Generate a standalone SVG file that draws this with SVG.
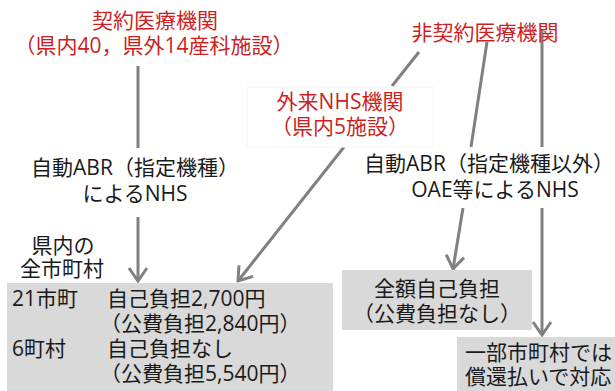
<svg xmlns="http://www.w3.org/2000/svg" width="615" height="391" viewBox="0 0 615 391">
<style>
  text { font-family: "Open Sans", "Noto Sans CJK JP", sans-serif; font-size: 21px; }
  .red { fill: #cc1f1f; }
  .blk { fill: #1a1a1a; }
  .mid { text-anchor: middle; }
  .conn { stroke: #808080; stroke-width: 3; fill: none; }
  .lbl { fill: #ffffff; stroke: #f4f4f4; stroke-width: 1; }
  .gbox { fill: #d9d9d9; }
</style>
<defs>
  <marker id="arr" markerUnits="userSpaceOnUse" viewBox="-16 -12 18 24" refX="0" refY="0" markerWidth="18" markerHeight="24" orient="auto">
    <path d="M-13,-9 L0,0 L-13,9" fill="none" stroke="#808080" stroke-width="3"/>
  </marker>
</defs>
<rect width="615" height="391" fill="#ffffff"/>

<g id="connectors">
  <line class="conn" x1="138" y1="66" x2="138" y2="148"/>
  <line class="conn" x1="138" y1="217" x2="138" y2="281" marker-end="url(#arr)"/>
  <line class="conn" x1="419" y1="52" x2="392" y2="86"/>
  <line class="conn" x1="344" y1="147" x2="238" y2="281" marker-end="url(#arr)"/>
  <line class="conn" x1="487" y1="42" x2="471" y2="147"/>
  <line class="conn" x1="463" y1="208" x2="453" y2="269" marker-end="url(#arr)"/>
  <line class="conn" x1="542" y1="30" x2="542" y2="147"/>
  <line class="conn" x1="542" y1="208" x2="542" y2="335" marker-end="url(#arr)"/>
</g>

<g id="contract">
  <text class="red mid" x="155" y="28">契約医療機関</text>
  <text class="red mid" x="154" y="53">（県内40，県外14産科施設）</text>
</g>

<g id="noncontract">
  <text class="red mid" x="485" y="40">非契約医療機関</text>
</g>

<g id="outpatient">
  <rect class="lbl" x="247" y="87" width="186" height="60"/>
  <text class="red mid" x="340" y="109">外来NHS機関</text>
  <text class="red mid" x="340" y="134">（県内5施設）</text>
</g>

<g id="abr-designated">
  <text class="blk mid" x="135" y="175">自動ABR（指定機種）</text>
  <text class="blk mid" x="135" y="201">によるNHS</text>
</g>

<g id="abr-other">
  <text class="blk mid" x="489" y="171">自動ABR（指定機種以外）</text>
  <text class="blk mid" x="495" y="197">OAE等によるNHS</text>
</g>

<g id="all-municipalities">
  <text class="blk mid" x="63" y="253">県内の</text>
  <text class="blk mid" x="62" y="276">全市町村</text>
</g>

<g id="public-support">
  <rect class="gbox" x="7" y="283" width="326" height="108"/>
  <text class="blk" x="12" y="306">21市町</text>
  <text class="blk" x="107" y="306">自己負担2,700円</text>
  <text class="blk" x="100" y="331">（公費負担2,840円）</text>
  <text class="blk" x="12" y="356">6町村</text>
  <text class="blk" x="107" y="356">自己負担なし</text>
  <text class="blk" x="100" y="381">（公費負担5,540円）</text>
</g>

<g id="full-self-pay">
  <rect class="gbox" x="342" y="270" width="190" height="60"/>
  <text class="blk mid" x="437" y="296">全額自己負担</text>
  <text class="blk mid" x="437" y="321">（公費負担なし）</text>
</g>

<g id="reimbursement">
  <rect class="gbox" x="457" y="337" width="158" height="54"/>
  <text class="blk" x="465" y="360">一部市町村では</text>
  <text class="blk" x="465" y="384">償還払いで対応</text>
</g>
</svg>
